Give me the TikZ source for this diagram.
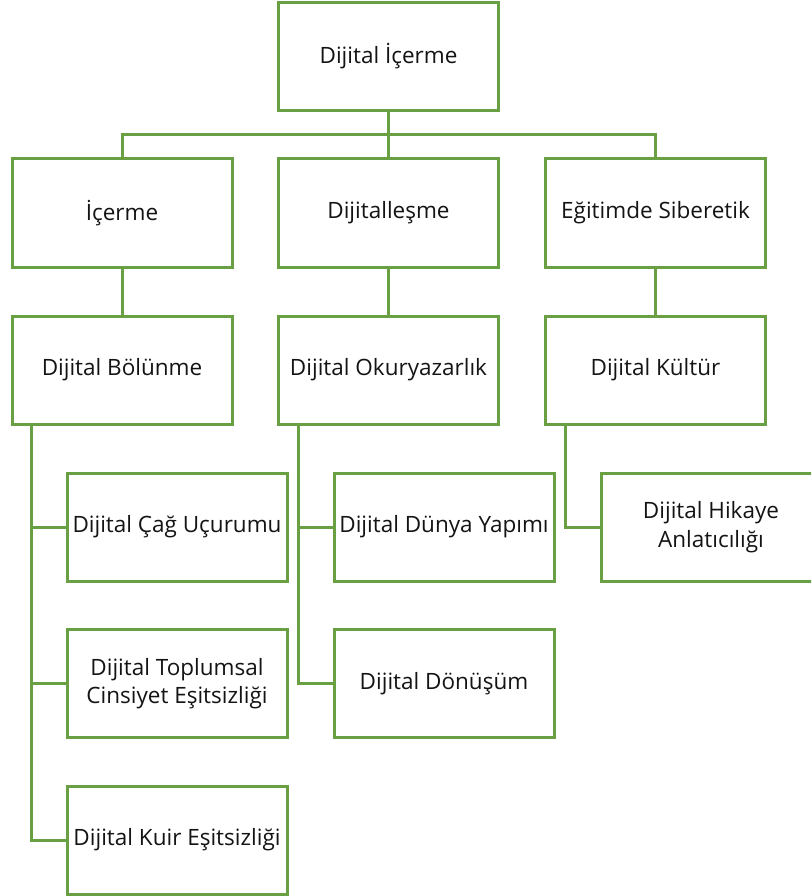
\documentclass[tikz,border=0pt]{standalone}
\usepackage{fontspec}
\setmainfont{Open Sans}
\definecolor{boxgreen}{RGB}{106,160,68}
\definecolor{txt}{RGB}{20,20,20}
\begin{document}
\begin{tikzpicture}[x=1pt,y=-1pt,
  box/.style={draw=boxgreen,line width=3pt,fill=white,minimum width=220pt,minimum height=108pt,inner sep=0pt,align=center,text=txt,font=\fontsize{22.5}{28.5}\selectfont},
  link/.style={draw=boxgreen,line width=3pt}]
\useasboundingbox (0,0) rectangle (811,896);
\clip (0,0) rectangle (811,896);
\node[box] (root) at (388.5,56.5) {Dijital İçerme};
\node[box] (a) at (122,213) {İçerme};
\node[box] (b) at (388.5,213) {Dijitalleşme};
\node[box] (c) at (655.5,213) {Eğitimde Siberetik};
\node[box] (a1) at (122,370) {Dijital Bölünme};
\node[box] (b1) at (388.5,370) {Dijital Okuryazarlık};
\node[box] (c1) at (655.5,370) {Dijital Kültür};
\node[box] (a11) at (177,527) {Dijital Çağ Uçurumu};
\node[box] (a12) at (177,683.5) {Dijital Toplumsal\\Cinsiyet Eşitsizliği};
\node[box] (a13) at (177,840) {Dijital Kuir Eşitsizliği};
\node[box] (b11) at (444,527) {Dijital Dünya Yapımı};
\node[box] (b12) at (444,683.5) {Dijital Dönüşüm};
\node[box] (c11) at (711,527) {Dijital Hikaye\\Anlatıcılığı};
\coordinate (bus) at (388.5,135);
\draw[link] (root.south) -- (bus);
\draw[link] (a.north) -- (a.north |- bus) -- (c.north |- bus) -- (c.north);
\draw[link] (bus) -- (b.north);
\draw[link] (a.south) -- (a1.north);
\draw[link] (b.south) -- (b1.north);
\draw[link] (c.south) -- (c1.north);
\coordinate (ta) at ([xshift=21pt]a1.south west);
\coordinate (tb) at ([xshift=21pt]b1.south west);
\coordinate (tc) at ([xshift=21pt]c1.south west);
\draw[link] (ta) |- (a11.west);
\draw[link] (ta) |- (a12.west);
\draw[link] (ta) |- (a13.west);
\draw[link] (tb) |- (b11.west);
\draw[link] (tb) |- (b12.west);
\draw[link] (tc) |- (c11.west);
\end{tikzpicture}
\end{document}
